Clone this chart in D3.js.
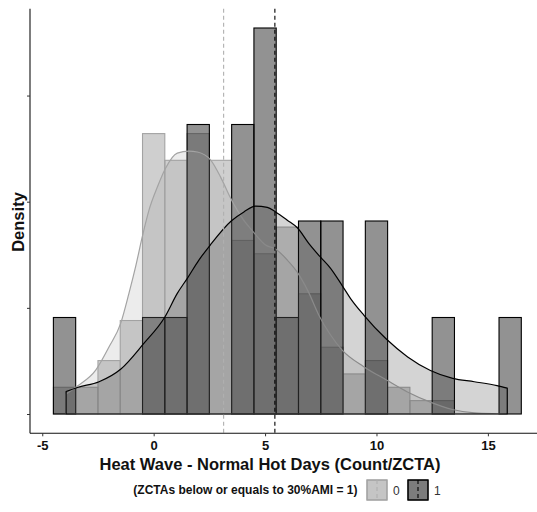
<!DOCTYPE html>
<html>
<head>
<meta charset="utf-8">
<script src="https://cdn.jsdelivr.net/npm/d3@7"></script>
<style>
  html, body { margin: 0; padding: 0; background: #ffffff; }
  svg { display: block; font-family: "Liberation Sans", Arial, Helvetica, sans-serif; }
</style>
</head>
<body>
<svg id="chart" width="537" height="512"></svg>
<script>
// Histogram bins (width 1, centred on integers) and counts per group
const binCenters = [-4, -3, -2, -1, 0, 1, 2, 3, 4, 5, 6, 7, 8, 9, 10, 11, 12, 13, 14, 15, 16];
const counts0 = [2, 2, 4, 7, 21, 19, 21, 19, 13, 12, 14, 9, 5, 3, 4, 2, 1, 1, 0, 0, 0];
const counts1 = [1, 0, 0, 0, 1, 1, 3, 0, 3, 4, 1, 2, 2, 0, 2, 0, 0, 1, 0, 0, 1];
const binWidth = 1;

// Kernel density estimates per group
const densX0 = [-3.93, -3.42, -2.6, -2.0, -1.48, -1.11, -0.81, -0.51, -0.21, 0.17, 0.51, 1.06, 1.58, 1.96, 2.56, 3.0, 3.45, 4.04, 4.48, 5.02, 5.47, 6.0, 6.46, 6.95, 7.42, 7.94, 8.46, 9.43, 10.45, 11.39, 12.42, 13.41, 14.39, 15.38, 15.87];
const densY0 = [0.0094, 0.0132, 0.0207, 0.0317, 0.0427, 0.0568, 0.0694, 0.0835, 0.096, 0.107, 0.1153, 0.1229, 0.1238, 0.1234, 0.1196, 0.1117, 0.1017, 0.0913, 0.0857, 0.0796, 0.0777, 0.0725, 0.0666, 0.0574, 0.0464, 0.0372, 0.0301, 0.0223, 0.016, 0.0104, 0.0056, 0.0021, 0.0005, 0.0001, 0.0];
const densX1 = [-3.93, -3.42, -2.45, -1.47, -0.46, 0.51, 1.06, 1.51, 2.03, 2.54, 3.48, 4.05, 4.57, 5.1, 5.47, 6.0, 6.46, 6.96, 7.46, 7.94, 8.46, 8.83, 9.43, 10.44, 11.4, 12.42, 13.42, 14.39, 15.41, 15.87];
const densY1 = [0.0106, 0.0125, 0.0152, 0.0212, 0.033, 0.0458, 0.0568, 0.0639, 0.0725, 0.0796, 0.0909, 0.0952, 0.0979, 0.0973, 0.0952, 0.0913, 0.0876, 0.0804, 0.0742, 0.0686, 0.0605, 0.0545, 0.0466, 0.0353, 0.0269, 0.0205, 0.0168, 0.0152, 0.0134, 0.0122];

// Group means (dashed reference lines)
const groupMeans = [3.14, 5.44];
const groupLabels = ["0", "1"];

// Axis ticks
const xTicks = [-5, 0, 5, 10, 15];
const yTicks = [0, 0.05, 0.1, 0.15];

const xTitle = "Heat Wave - Normal Hot Days (Count/ZCTA)";
const yTitle = "Density";
const legendTitle = "(ZCTAs below or equals to 30%AMI = 1)";

// Styling per group
const fillCol = ["#a0a0a0", "#262626"];
const lineCol = ["#a3a3a3", "#000000"];
const vlineCol = ["#b0b0b0", "#000000"];
const barAlpha = 0.5;
const densAlpha = 0.2;

const svg = d3.select("#chart");

// Scales: x padded 5% around the bin range, y padded 5% around [0, max]
const n0 = d3.sum(counts0), n1 = d3.sum(counts1);
const dens0 = counts0.map(c => c / (n0 * binWidth));
const dens1 = counts1.map(c => c / (n1 * binWidth));
const xLo = binCenters[0] - binWidth / 2, xHi = binCenters[binCenters.length - 1] + binWidth / 2;
const xPad = (xHi - xLo) * 0.05;
const yMax = d3.max(dens0.concat(dens1, densY0, densY1));
const yPad = yMax * 0.05;

const x = d3.scaleLinear().domain([xLo - xPad, xHi + xPad]).range([30, 544.7]);
const y = d3.scaleLinear().domain([-yPad, yMax + yPad]).range([433.3, 8.7]);

const plot = svg.append("g");

// Histograms
[dens0, dens1].forEach((dens, g) => {
  plot.append("g").selectAll("rect")
    .data(binCenters.map((c, i) => ({ c, d: dens[i] })))
    .join("rect")
    .attr("x", d => x(d.c - binWidth / 2))
    .attr("width", d => x(d.c + binWidth / 2) - x(d.c - binWidth / 2))
    .attr("y", d => y(d.d))
    .attr("height", d => y(0) - y(d.d))
    .attr("fill", fillCol[g])
    .attr("fill-opacity", barAlpha)
    .attr("stroke", lineCol[g])
    .attr("stroke-width", 1.1);
});

// Density areas with outlines
const area = d3.area()
  .x(d => x(d[0]))
  .y0(y(0))
  .y1(d => y(d[1]))
  .curve(d3.curveMonotoneX);

[[densX0, densY0], [densX1, densY1]].forEach(([xs, ys], g) => {
  const pts = xs.map((v, i) => [v, ys[i]]);
  plot.append("path")
    .attr("d", area(pts) + "Z")
    .attr("fill", fillCol[g])
    .attr("fill-opacity", densAlpha)
    .attr("stroke", lineCol[g])
    .attr("stroke-width", 1.2)
    .attr("stroke-linejoin", "round");
});

// Mean lines
plot.append("g").selectAll("line")
  .data(groupMeans)
  .join("line")
  .attr("x1", d => x(d)).attr("x2", d => x(d))
  .attr("y1", y.range()[1]).attr("y2", y.range()[0])
  .attr("stroke", (d, i) => vlineCol[i])
  .attr("stroke-width", 1.1)
  .attr("stroke-dasharray", "4,3");

// Axes
const xAxis = d3.axisBottom(x).tickValues(xTicks).tickSize(3).tickPadding(4).tickFormat(d3.format("d"));
const gx = svg.append("g").attr("transform", `translate(0,${y.range()[0]})`).call(xAxis);
gx.select(".domain").attr("d", `M${x.range()[0]},0H${x.range()[1]}`).attr("stroke", "#111").attr("stroke-width", 1.1);
gx.selectAll(".tick line").attr("stroke", "#333");
gx.selectAll(".tick text")
  .attr("font-family", "Liberation Sans, Arial, sans-serif")
  .attr("font-size", 13).attr("font-weight", "bold").attr("fill", "#111")
  .text(d => d < 0 ? "-" + Math.abs(d) : d);

const yAxis = d3.axisLeft(y).tickValues(yTicks).tickSize(3).tickFormat("");
const gy = svg.append("g").attr("transform", `translate(${x.range()[0]},0)`).call(yAxis);
gy.select(".domain").attr("d", `M0,${y.range()[1]}V${y.range()[0]}`).attr("stroke", "#111").attr("stroke-width", 1.1);
gy.selectAll(".tick line").attr("stroke", "#333");

// Axis titles
svg.append("text")
  .attr("x", 270).attr("y", 470)
  .attr("text-anchor", "middle")
  .attr("font-size", 16.5).attr("font-weight", "bold").attr("fill", "#111")
  .text(xTitle);

svg.append("text")
  .attr("transform", "translate(24,222) rotate(-90)")
  .attr("text-anchor", "middle")
  .attr("font-size", 16.5).attr("font-weight", "bold").attr("fill", "#111")
  .text(yTitle);

// Legend
const leg = svg.append("g");
leg.append("text")
  .attr("x", 357.5).attr("y", 494)
  .attr("text-anchor", "end")
  .attr("font-size", 12).attr("font-weight", "bold").attr("fill", "#111")
  .text(legendTitle);

const keyX = [367, 408];
groupLabels.forEach((lab, g) => {
  const k = leg.append("g").attr("transform", `translate(${keyX[g]},480)`);
  k.append("rect").attr("width", 20).attr("height", 20)
    .attr("fill", fillCol[g]).attr("fill-opacity", barAlpha)
    .attr("stroke", lineCol[g]).attr("stroke-width", 1.1);
  k.append("rect").attr("width", 20).attr("height", 20)
    .attr("fill", fillCol[g]).attr("fill-opacity", densAlpha)
    .attr("stroke", lineCol[g]).attr("stroke-width", 1.1);
  k.append("line").attr("x1", 10).attr("x2", 10).attr("y1", 0).attr("y2", 20)
    .attr("stroke", vlineCol[g]).attr("stroke-width", 1.1).attr("stroke-dasharray", "4,3");
  k.append("text").attr("x", 26).attr("y", 14.5)
    .attr("font-size", 12).attr("fill", "#333")
    .text(lab);
});
</script>
</body>
</html>
